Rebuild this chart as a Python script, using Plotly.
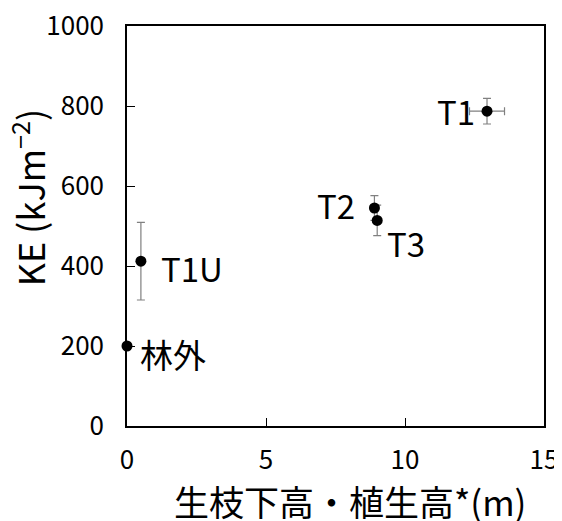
import plotly.graph_objects as go

# data
names = ["林外", "T1U", "T2", "T3", "T1"]
x_height = [0.0, 0.5, 8.9, 9.0, 12.95]
x_err = [0.0, 0.0, 0.0, 0.0, 0.63]
ke = [200, 412, 545, 514, 787]
ke_err = [0, 97, 31, 38, 32]
x_title = "生枝下高・植生高*(m)"
y_title = "KE (kJm<sup>−2</sup>)"

# label offsets in pixels (styling)
label_dx = [46, 51, -38, 29, -31]
label_dy = [-8, -7, 3, -23, 0]

FONT = "Noto Sans CJK JP"

fig = go.Figure()
fig.add_trace(go.Scatter(
    x=x_height, y=ke, mode="markers",
    marker=dict(color="black", size=11),
    error_y=dict(type="data", array=ke_err, visible=True, color="#808080", thickness=1.2, width=4),
    error_x=dict(type="data", array=x_err, visible=True, color="#808080", thickness=1.2, width=4),
    showlegend=False, cliponaxis=False,
))

for n, xv, yv, dx, dy in zip(names, x_height, ke, label_dx, label_dy):
    fig.add_annotation(x=xv, y=yv, text=n, showarrow=False, xshift=dx, yshift=dy,
                       font=dict(family=FONT, size=33, color="black"))

# axis titles
fig.add_annotation(xref="paper", yref="paper", x=0.535, y=-0.186, text=x_title,
                   showarrow=False, xanchor="center", yanchor="middle",
                   font=dict(family=FONT, size=35, color="black"))
fig.add_annotation(xref="paper", yref="paper", x=-0.237, y=0.57, text=y_title,
                   showarrow=False, textangle=-90, xanchor="center", yanchor="middle",
                   font=dict(family=FONT, size=36, color="black"))

fig.update_layout(
    width=554, height=513,
    margin=dict(l=119, r=18, t=18, b=95),
    plot_bgcolor="white", paper_bgcolor="white",
    font=dict(family=FONT, color="black"),
)
fig.update_xaxes(
    range=[0, 15], tickvals=[0, 5, 10, 15], ticks="inside", ticklen=8, tickcolor="black",
    showline=True, linecolor="black", linewidth=1.5, mirror=True, showgrid=False, zeroline=False,
    tickfont=dict(family=FONT, size=26), ticklabelstandoff=10, automargin=False,
    ticklabeloverflow="allow",
)
fig.update_yaxes(
    range=[0, 1000], tickvals=[0, 200, 400, 600, 800, 1000], ticks="inside", ticklen=8, tickcolor="black",
    showline=True, linecolor="black", linewidth=1.5, mirror=True, showgrid=False, zeroline=False,
    tickfont=dict(family=FONT, size=26), ticklabelstandoff=16, automargin=False,
    ticklabeloverflow="allow",
)
fig.write_html("out.html")
